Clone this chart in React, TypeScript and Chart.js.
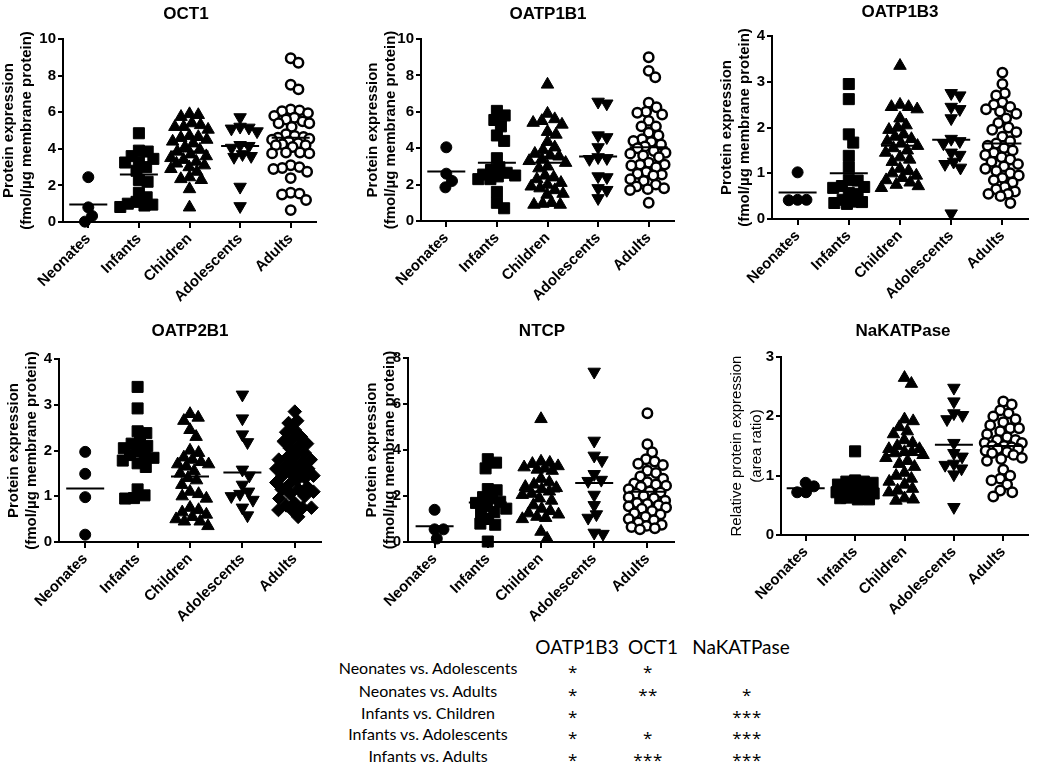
import React, { useEffect, useRef } from "react";
import { Chart, registerables } from "chart.js";
Chart.register(...registerables);

// ---------- categories ----------
const GROUPS = ["Neonates", "Infants", "Children", "Adolescents", "Adults"];

// ---------- OCT1 ----------
const OCT1_NEONATES = [2.45, 0.8, 0.33, 0.02];
const OCT1_INFANTS = [4.85, 3.9, 3.85, 3.6, 3.45, 3.3, 3.25, 3.0, 2.8, 2.3, 2.2, 1.6, 1.35, 1.1, 1.0, 0.95, 0.9, 0.82];
const OCT1_CHILDREN = [5.9, 5.85, 5.75, 5.4, 5.3, 5.2, 5.2, 5.05, 4.7, 4.65, 4.6, 4.5, 4.4, 4.3, 4.1, 3.95, 3.85, 3.7, 3.6, 3.5, 3.4, 3.3, 3.2, 3.1, 3.0, 2.9, 2.75, 2.45, 2.35, 2.3, 1.8, 0.8];
const OCT1_ADOLESCENTS = [5.72, 5.2, 5.15, 5.1, 4.95, 4.2, 4.15, 4.05, 3.7, 3.6, 3.55, 1.92, 0.86];
const OCT1_ADULTS = [8.95, 8.7, 7.5, 7.25, 6.15, 6.1, 6.05, 5.95, 5.8, 5.7, 5.6, 5.5, 5.4, 5.4, 5.2, 4.8, 4.7, 4.65, 4.6, 4.55, 4.5, 4.4, 4.3, 4.25, 4.2, 4.2, 4.1, 3.8, 3.8, 3.75, 3.75, 3.1, 3.0, 2.95, 2.9, 2.75, 2.4, 1.6, 1.55, 1.5, 1.2, 0.65];
const OCT1_MEANS = [0.95, 2.6, 3.85, 4.15, 4.6];

// ---------- OATP1B1 ----------
const OATP1B1_NEONATES = [4.05, 2.6, 2.2, 1.85];
const OATP1B1_INFANTS = [6.05, 5.8, 5.55, 5.2, 4.7, 4.4, 3.45, 2.95, 2.8, 2.65, 2.55, 2.5, 2.45, 2.3, 2.3, 1.6, 1.0, 0.7];
const OATP1B1_CHILDREN = [7.5, 5.9, 5.6, 5.5, 5.4, 5.3, 4.9, 4.75, 4.35, 4.05, 3.9, 3.7, 3.6, 3.55, 3.4, 3.3, 3.2, 3.0, 2.9, 2.5, 2.4, 2.3, 2.1, 2.0, 1.9, 1.8, 1.7, 1.5, 1.45, 1.0, 0.95, 0.9, 0.9];
const OATP1B1_ADOLESCENTS = [6.55, 6.45, 4.7, 4.6, 4.05, 3.5, 3.45, 3.4, 2.45, 2.4, 1.8, 1.7, 1.25];
const OATP1B1_ADULTS = [9.0, 8.25, 7.9, 6.5, 6.25, 6.0, 5.95, 5.85, 5.5, 5.2, 5.2, 4.85, 4.7, 4.5, 4.4, 4.35, 4.2, 4.1, 4.0, 3.85, 3.75, 3.7, 3.6, 3.5, 3.2, 3.1, 3.1, 3.05, 2.95, 2.7, 2.6, 2.55, 2.5, 2.3, 2.2, 2.0, 1.9, 1.8, 1.75, 1.7, 1.0];
const OATP1B1_MEANS = [2.72, 3.2, 3.2, 3.55, 4.05];

// ---------- OATP1B3 ----------
const OATP1B3_NEONATES = [1.02, 0.42, 0.41, 0.42];
const OATP1B3_INFANTS = [2.95, 2.62, 1.85, 1.67, 1.38, 1.13, 0.85, 0.84, 0.72, 0.7, 0.68, 0.57, 0.55, 0.42, 0.38, 0.37, 0.35, 0.33];
const OATP1B3_CHILDREN = [3.35, 2.5, 2.45, 2.45, 2.4, 2.2, 2.05, 2.0, 1.95, 1.85, 1.8, 1.75, 1.7, 1.65, 1.6, 1.55, 1.5, 1.45, 1.35, 1.3, 1.25, 1.1, 1.05, 1.0, 0.95, 0.9, 0.85, 0.8, 0.75, 0.72, 0.68];
const OATP1B3_ADOLESCENTS = [2.75, 2.7, 2.45, 2.4, 2.2, 1.75, 1.7, 1.65, 1.45, 1.4, 1.25, 1.2, 1.12, 0.12];
const OATP1B3_ADULTS = [3.2, 2.95, 2.75, 2.7, 2.55, 2.5, 2.45, 2.4, 2.35, 2.3, 2.2, 2.1, 2.0, 1.95, 1.9, 1.8, 1.7, 1.65, 1.6, 1.55, 1.5, 1.45, 1.4, 1.35, 1.3, 1.25, 1.2, 1.15, 1.1, 1.05, 1.0, 0.95, 0.9, 0.85, 0.8, 0.7, 0.65, 0.6, 0.55, 0.55, 0.5, 0.35];
const OATP1B3_MEANS = [0.58, 1.0, 1.6, 1.73, 1.65];

// ---------- OATP2B1 ----------
const OATP2B1_NEONATES = [1.97, 1.49, 0.98, 0.16];
const OATP2B1_INFANTS = [3.39, 2.92, 2.42, 2.38, 2.22, 2.15, 2.1, 2.05, 2.0, 1.9, 1.87, 1.84, 1.78, 1.72, 1.64, 1.15, 1.02, 0.96, 0.95];
const OATP2B1_CHILDREN = [2.8, 2.72, 2.65, 2.45, 2.3, 2.0, 1.95, 1.85, 1.8, 1.75, 1.7, 1.7, 1.65, 1.55, 1.5, 1.4, 1.35, 1.25, 1.1, 1.05, 1.0, 0.95, 0.75, 0.7, 0.65, 0.6, 0.55, 0.5, 0.45, 0.45, 0.35];
const OATP2B1_ADOLESCENTS = [3.22, 2.7, 2.35, 2.18, 1.58, 1.45, 1.25, 1.1, 1.05, 1.0, 0.92, 0.75, 0.58];
const OATP2B1_ADULTS = [2.85, 2.65, 2.6, 2.45, 2.4, 2.3, 2.25, 2.2, 2.15, 2.1, 2.05, 1.95, 1.9, 1.85, 1.8, 1.8, 1.75, 1.7, 1.65, 1.6, 1.6, 1.55, 1.5, 1.45, 1.45, 1.4, 1.35, 1.3, 1.25, 1.2, 1.15, 1.15, 1.1, 1.05, 1.0, 0.95, 0.85, 0.8, 0.75, 0.75, 0.7, 0.7, 0.55];
const OATP2B1_MEANS = [1.17, 1.88, 1.43, 1.52, 1.6];

// ---------- NTCP ----------
const NTCP_NEONATES = [1.4, 0.55, 0.55, 0.15];
const NTCP_INFANTS = [3.6, 3.45, 3.2, 2.3, 2.25, 1.95, 1.9, 1.75, 1.7, 1.55, 1.45, 1.3, 1.25, 1.0, 0.8, 0.75, 0.02];
const NTCP_CHILDREN = [5.35, 3.5, 3.45, 3.4, 3.3, 3.25, 3.2, 3.15, 3.1, 2.75, 2.6, 2.5, 2.4, 2.35, 2.3, 2.2, 2.1, 2.05, 1.9, 1.8, 1.6, 1.45, 1.35, 1.25, 1.2, 1.1, 1.05, 1.0, 0.45, 0.15];
const NTCP_ADOLESCENTS = [7.4, 4.4, 3.75, 3.55, 2.95, 2.7, 2.65, 2.05, 1.6, 1.2, 1.05, 0.4, 0.35];
const NTCP_ADULTS = [5.6, 4.25, 3.9, 3.6, 3.5, 3.4, 3.35, 3.1, 3.0, 2.85, 2.75, 2.6, 2.55, 2.5, 2.45, 2.4, 2.3, 2.2, 2.15, 2.1, 2.0, 1.95, 1.9, 1.8, 1.7, 1.65, 1.6, 1.55, 1.5, 1.45, 1.35, 1.25, 1.2, 1.1, 1.0, 0.95, 0.85, 0.75, 0.7, 0.65, 0.6, 0.55];
const NTCP_MEANS = [0.68, 1.72, 2.2, 2.57, 2.18];

// ---------- NaKATPase ----------
const NAK_NEONATES = [0.82, 0.88, 0.72, 0.72];
const NAK_INFANTS = [1.41, 0.92, 0.9, 0.9, 0.88, 0.85, 0.82, 0.8, 0.78, 0.75, 0.72, 0.7, 0.68, 0.65, 0.63, 0.62, 0.6, 0.6];
const NAK_CHILDREN = [2.65, 2.55, 1.95, 1.92, 1.82, 1.75, 1.7, 1.6, 1.55, 1.5, 1.45, 1.45, 1.4, 1.4, 1.38, 1.35, 1.3, 1.25, 1.2, 1.15, 1.05, 1.0, 0.95, 0.9, 0.85, 0.78, 0.75, 0.72, 0.62, 0.6, 0.58];
const NAK_ADOLESCENTS = [2.48, 2.25, 2.05, 2.02, 1.95, 1.55, 1.38, 1.32, 1.2, 1.18, 1.12, 1.02, 0.47];
const NAK_ADULTS = [2.25, 2.2, 2.1, 2.05, 2.0, 1.95, 1.9, 1.85, 1.8, 1.8, 1.75, 1.7, 1.65, 1.6, 1.6, 1.55, 1.55, 1.5, 1.5, 1.48, 1.45, 1.45, 1.42, 1.4, 1.38, 1.35, 1.3, 1.28, 1.25, 1.1, 1.0, 0.95, 0.92, 0.85, 0.75, 0.72, 0.65];
const NAK_MEANS = [0.79, 0.76, 1.35, 1.52, 1.5];

// ---------- significance table ----------
const COMPARISONS = ["Neonates vs. Adolescents", "Neonates vs. Adults", "Infants vs. Children", "Infants vs. Adolescents", "Infants vs. Adults"];
const TABLE_COLUMNS = ["OATP1B3", "OCT1", "NaKATPase"];
const SIG_OATP1B3 = ["*", "*", "*", "*", "*"];
const SIG_OCT1 = ["*", "**", "", "*", "***"];
const SIG_NAKATPASE = ["", "*", "***", "***", "***"];

const Y_TITLE_MAIN = ["Protein expression", "(fmol/\u00b5g membrane protein)"];
const Y_TITLE_NAK = ["Relative protein expression", "(area ratio)"];

const FONT = '"Liberation Sans", Arial, Helvetica, sans-serif';

type PanelCfg = {
  title: string;
  series: number[][];
  means: number[];
  yMax: number;
  yStep: number;
  yTitle: string[];
  boldTitle: boolean;
  diamondAdults?: boolean;
  left: number; top: number; axisX: number; plotRight: number; plotTop: number; plotBottom: number;
  titleX: number; titleY: number;
};

const PANELS: PanelCfg[] = [
  { title: "OCT1", series: [OCT1_NEONATES, OCT1_INFANTS, OCT1_CHILDREN, OCT1_ADOLESCENTS, OCT1_ADULTS], means: OCT1_MEANS, yMax: 10, yStep: 2, yTitle: Y_TITLE_MAIN, boldTitle: true,
    left: 0, top: 0, axisX: 63, plotRight: 335, plotTop: 39, plotBottom: 222, titleX: 186, titleY: 14 },
  { title: "OATP1B1", series: [OATP1B1_NEONATES, OATP1B1_INFANTS, OATP1B1_CHILDREN, OATP1B1_ADOLESCENTS, OATP1B1_ADULTS], means: OATP1B1_MEANS, yMax: 10, yStep: 2, yTitle: Y_TITLE_MAIN, boldTitle: true,
    left: 364, top: 0, axisX: 421, plotRight: 693, plotTop: 39, plotBottom: 221, titleX: 548, titleY: 14 },
  { title: "OATP1B3", series: [OATP1B3_NEONATES, OATP1B3_INFANTS, OATP1B3_CHILDREN, OATP1B3_ADOLESCENTS, OATP1B3_ADULTS], means: OATP1B3_MEANS, yMax: 4, yStep: 1, yTitle: Y_TITLE_MAIN, boldTitle: true,
    left: 718, top: 0, axisX: 772, plotRight: 1047, plotTop: 36, plotBottom: 219, titleX: 900, titleY: 12 },
  { title: "OATP2B1", series: [OATP2B1_NEONATES, OATP2B1_INFANTS, OATP2B1_CHILDREN, OATP2B1_ADOLESCENTS, OATP2B1_ADULTS], means: OATP2B1_MEANS, yMax: 4, yStep: 1, yTitle: Y_TITLE_MAIN, boldTitle: true, diamondAdults: true,
    left: 5, top: 315, axisX: 59, plotRight: 340, plotTop: 359, plotBottom: 542, titleX: 190, titleY: 331 },
  { title: "NTCP", series: [NTCP_NEONATES, NTCP_INFANTS, NTCP_CHILDREN, NTCP_ADOLESCENTS, NTCP_ADULTS], means: NTCP_MEANS, yMax: 8, yStep: 2, yTitle: Y_TITLE_MAIN, boldTitle: true,
    left: 363, top: 315, axisX: 408, plotRight: 693, plotTop: 358, plotBottom: 542, titleX: 542, titleY: 331 },
  { title: "NaKATPase", series: [NAK_NEONATES, NAK_INFANTS, NAK_CHILDREN, NAK_ADOLESCENTS, NAK_ADULTS], means: NAK_MEANS, yMax: 3, yStep: 1, yTitle: Y_TITLE_NAK, boldTitle: false,
    left: 727, top: 315, axisX: 781, plotRight: 1047, plotTop: 357, plotBottom: 535, titleX: 903, titleY: 331 },
];

const MARKERS = [
  { pointStyle: "circle", radius: 5.5, rotation: 0, fill: "#000", bw: 1 },
  { pointStyle: "rect", radius: 7.8, rotation: 0, fill: "#000", bw: 1 },
  { pointStyle: "triangle", radius: 7.2, rotation: 0, fill: "#000", bw: 1 },
  { pointStyle: "triangle", radius: 7.2, rotation: 180, fill: "#000", bw: 1 },
  { pointStyle: "circle", radius: 4.7, rotation: 0, fill: "#fff", bw: 2.5 },
];
const DIAMOND = { pointStyle: "rectRot", radius: 6.8, rotation: 0, fill: "#000", bw: 1 };

// beeswarm layout: horizontal pixel offsets derived from the values
function swarm(values: number[], yPx: number, d: number, cap: number): number[] {
  const order = values.map((_, i) => i).sort((a, b) => values[b] - values[a]);
  const placed: { x: number; y: number }[] = [];
  const out = new Array(values.length).fill(0);
  for (const i of order) {
    const y = values[i] * yPx;
    const cands = [0];
    for (const p of placed) {
      const dy = Math.abs(p.y - y);
      if (dy < d) {
        const dx = Math.sqrt(d * d - dy * dy);
        cands.push(p.x + dx + 0.01, p.x - dx - 0.01);
      }
    }
    const ok = (x: number) => placed.every((p) => (p.x - x) ** 2 + (p.y - y) ** 2 >= d * d - 0.1);
    let best: number | null = null;
    for (const c of cands) {
      if (Math.abs(c) <= cap && ok(c) && (best === null || Math.abs(c) < Math.abs(best) - 1e-6)) best = c;
    }
    if (best === null) {
      let bestScore = -1;
      best = 0;
      for (let x = -cap; x <= cap; x += 1) {
        let m = Infinity;
        for (const p of placed) m = Math.min(m, Math.hypot(p.x - x, p.y - y));
        if (m > bestScore + 0.01) { bestScore = m; best = x; }
      }
    }
    placed.push({ x: best, y });
    out[i] = best;
  }
  return out;
}

function Panel({ cfg }: { cfg: PanelCfg }) {
  const ref = useRef<HTMLCanvasElement>(null);
  const canvasW = cfg.plotRight + 2 - cfg.left;
  const xH = 88;
  const canvasH = cfg.plotBottom + xH - cfg.top;

  useEffect(() => {
    if (!ref.current) return;
    const xPx = (cfg.plotRight - cfg.axisX) / 5;
    const yPx = (cfg.plotBottom - cfg.plotTop) / cfg.yMax;
    const datasets: any[] = [];
    datasets.push({
      label: "mean",
      data: cfg.means.map((m, i) => ({ x: i, y: m })),
      pointStyle: "line",
      pointRadius: 19,
      pointBorderWidth: 2,
      pointBorderColor: "#000",
      pointBackgroundColor: "#000",
      showLine: false,
      clip: false,
    });
    cfg.series.forEach((vals, gi) => {
      const st = gi === 4 && cfg.diamondAdults ? DIAMOND : MARKERS[gi];
      const offs = swarm(vals, yPx, 9.5, 20);
      datasets.push({
        label: GROUPS[gi],
        data: vals.map((v, k) => ({ x: gi + offs[k] / xPx, y: v })),
        pointStyle: st.pointStyle,
        pointRotation: st.rotation,
        pointRadius: st.radius,
        pointBorderWidth: st.bw,
        pointBackgroundColor: st.fill,
        pointBorderColor: "#000",
        showLine: false,
        clip: false,
      });
    });

    const tickFont = { family: FONT, size: 15, weight: "bold" as const };
    const chart = new Chart(ref.current, {
      type: "scatter",
      data: { datasets },
      options: {
        animation: false,
        responsive: false,
        devicePixelRatio: 1,
        events: [],
        layout: { padding: { top: cfg.plotTop - cfg.top, left: 0, right: canvasW - (cfg.plotRight - cfg.left), bottom: 0 } },
        plugins: { legend: { display: false }, tooltip: { enabled: false }, title: { display: false } },
        scales: {
          x: {
            type: "linear",
            min: -0.5,
            max: 4.5,
            afterBuildTicks: (s: any) => { s.ticks = GROUPS.map((_, i) => ({ value: i })); },
            afterFit: (s: any) => { s.height = xH; },
            ticks: {
              autoSkip: false,
              minRotation: 45,
              maxRotation: 45,
              padding: 2,
              color: "#000",
              font: tickFont,
              callback: (v: any) => GROUPS[Math.round(Number(v))] ?? "",
            },
            grid: { display: true, drawOnChartArea: false, drawTicks: true, tickLength: 6, color: "#000", lineWidth: 2 },
            border: { display: true, color: "#000", width: 2 },
          },
          y: {
            type: "linear",
            min: 0,
            max: cfg.yMax,
            afterFit: (s: any) => { s.width = cfg.axisX - cfg.left; },
            ticks: { stepSize: cfg.yStep, padding: 2, color: "#000", font: tickFont },
            grid: { display: true, drawOnChartArea: false, drawTicks: true, tickLength: 5, color: "#000", lineWidth: 2 },
            border: { display: true, color: "#000", width: 2 },
            title: {
              display: true,
              text: cfg.yTitle,
              color: "#000",
              align: "center",
              padding: 0,
              font: cfg.boldTitle
                ? { family: FONT, size: 15, weight: "bold", lineHeight: 1.2 }
                : { family: FONT, size: 15, weight: "normal", lineHeight: 1.33 },
            },
          },
        },
      } as any,
    });
    return () => chart.destroy();
  }, []);

  return (
    <>
      <canvas
        ref={ref}
        width={canvasW}
        height={canvasH}
        style={{ position: "absolute", left: cfg.left, top: cfg.top, width: canvasW, height: canvasH }}
      />
      <div
        style={{
          position: "absolute", left: cfg.titleX, top: cfg.titleY, transform: "translate(-50%, -50%)",
          fontFamily: FONT, fontWeight: "bold", fontSize: 17, lineHeight: "20px", whiteSpace: "nowrap", color: "#000",
        }}
      >
        {cfg.title}
      </div>
    </>
  );
}

const TABLE_FONT = 'Lato, "Open Sans", sans-serif';
const HEADER_X = [577, 653, 741];
const STAR_X = [573, 648, 747];
const ROW_Y = [668, 691, 713, 734, 756];

function SigTable() {
  const cols = [SIG_OATP1B3, SIG_OCT1, SIG_NAKATPASE];
  const cell = (x: number, y: number, size: number, family = TABLE_FONT): React.CSSProperties => ({
    position: "absolute", left: x, top: y, transform: "translate(-50%, -50%)", fontFamily: family,
    fontSize: size, lineHeight: `${size + 2}px`, whiteSpace: "nowrap", color: "#000",
  });
  return (
    <>
      {TABLE_COLUMNS.map((c, i) => (
        <div key={"h" + i} style={cell(HEADER_X[i], 646, 19)}>{c}</div>
      ))}
      {COMPARISONS.map((c, r) => (
        <div key={"r" + r} style={cell(428, ROW_Y[r], 16)}>{c}</div>
      ))}
      {cols.map((col, ci) =>
        col.map((s, r) => (
          <div key={`s${ci}-${r}`} style={{ ...cell(STAR_X[ci], ROW_Y[r] + 3, 17, '"Open Sans", sans-serif'), letterSpacing: "0.5px" }}>{s}</div>
        ))
      )}
    </>
  );
}

export default function App() {
  return (
    <div style={{ position: "absolute", left: 0, top: 0, width: 1050, height: 764, background: "#fff", overflow: "hidden" }}>
      {PANELS.map((p) => (
        <Panel key={p.title} cfg={p} />
      ))}
      <SigTable />
    </div>
  );
}
